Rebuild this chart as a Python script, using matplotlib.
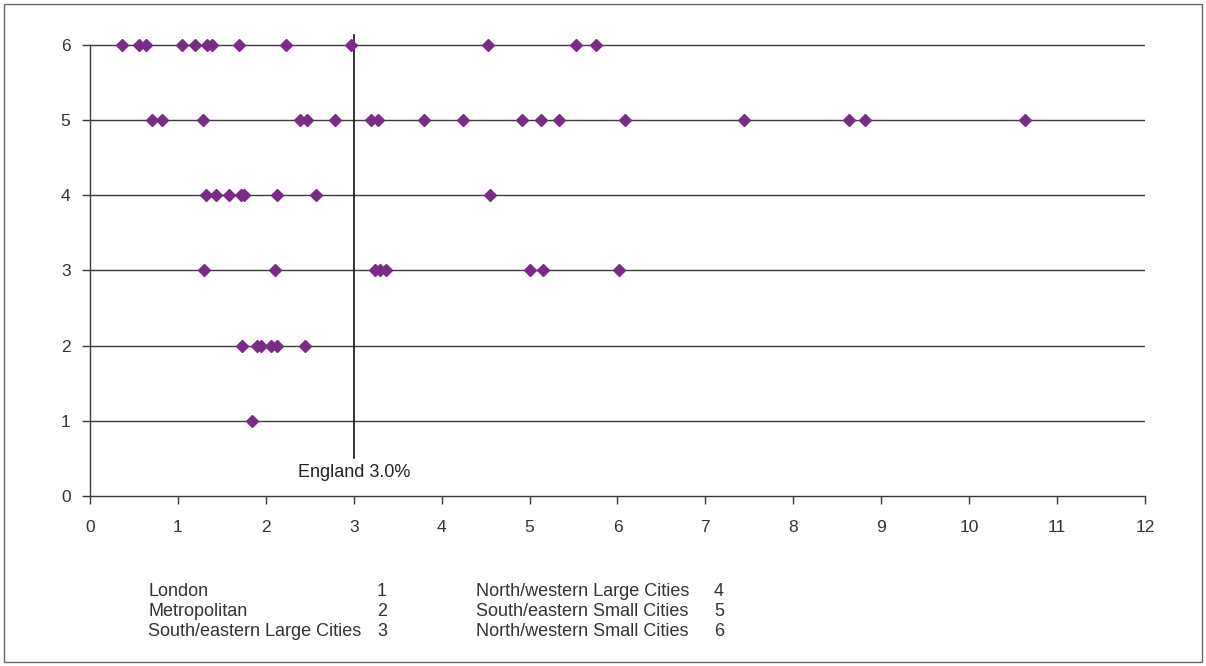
import matplotlib
matplotlib.use("Agg")
import matplotlib.pyplot as plt
from matplotlib.patches import Rectangle

# values (x = percent, y = area group 1..6)
LONDON = [1.84]
METROPOLITAN = [1.73, 1.90, 1.94, 2.06, 2.13, 2.45]
SE_LARGE = [1.30, 2.10, 3.24, 3.30, 3.37, 5.01, 5.15, 6.02]
NW_LARGE = [1.32, 1.43, 1.58, 1.72, 1.75, 2.13, 2.57, 4.55]
SE_SMALL = [0.71, 0.82, 1.29, 2.39, 2.47, 2.79, 3.20, 3.28, 3.80, 4.24,
            4.91, 5.13, 5.33, 6.09, 7.44, 8.63, 8.81, 10.64]
NW_SMALL = [0.36, 0.56, 0.64, 1.05, 1.19, 1.33, 1.39, 1.70, 2.23, 2.97,
            4.53, 5.53, 5.76]
GROUPS = [LONDON, METROPOLITAN, SE_LARGE, NW_LARGE, SE_SMALL, NW_SMALL]
GROUP_NAMES = ["London", "Metropolitan", "South/eastern Large Cities",
               "North/western Large Cities", "South/eastern Small Cities",
               "North/western Small Cities"]
ENGLAND = 3.0

INK = "#333333"
PURPLE = "#7a2a87"
LINE = "#3a3a3a"

plt.rcParams.update({
    "font.family": ["Liberation Sans", "DejaVu Sans"],
    "font.size": 12.5, "text.color": INK,
    "xtick.color": INK, "ytick.color": INK,
})

fig = plt.figure(figsize=(12.06, 6.66), dpi=100)
ax = fig.add_axes([0.0746, 0.2553, 0.8748, 0.6941])

for y in range(1, 7):
    ax.axhline(y, color=LINE, lw=1.0, zorder=1)
for i, vals in enumerate(GROUPS):
    ax.plot(vals, [i + 1] * len(vals), ls="none", marker="D", ms=6,
            color=PURPLE, mec=PURPLE, zorder=3)

ax.plot([ENGLAND, ENGLAND], [0.5, 6.13], color="#111111", lw=1.2, zorder=2,
        clip_on=False)
ax.text(ENGLAND, 0.31, f"England {ENGLAND:.1f}%", ha="center", va="center",
        fontsize=13, fontweight="medium", color="#222222")

ax.set_xlim(0, 12)
ax.set_ylim(0, 6.15)
ax.set_xticks(range(0, 13))
ax.set_yticks(range(0, 7))
ax.tick_params(axis="both", direction="out", length=6, width=1, color=LINE,
               labelsize=12.5)
ax.tick_params(axis="x", pad=11)
ax.tick_params(axis="y", pad=8)
for s in ("top", "right"):
    ax.spines[s].set_visible(False)
for s in ("left", "bottom"):
    ax.spines[s].set_color(LINE)
    ax.spines[s].set_linewidth(1.0)
ax.spines["left"].set_bounds(0, 6)

# key under the chart
W, H = 1206, 666
rows_y = [591, 611, 631]
for k, name in enumerate(GROUP_NAMES):
    col, row = divmod(k, 3)
    tx = 148 if col == 0 else 476
    nx = 382 if col == 0 else 719
    yy = 1 - rows_y[row] / H
    fig.text(tx / W, yy, name, ha="left", va="center", fontsize=13)
    fig.text(nx / W, yy, str(k + 1), ha="center", va="center", fontsize=13)

fig.patches.append(Rectangle((4 / W, 4 / H), 1 - 8 / W, 1 - 8 / H,
                             transform=fig.transFigure, fill=False,
                             ec="#666666", lw=1.0))

fig.savefig("out.png", dpi=100)
